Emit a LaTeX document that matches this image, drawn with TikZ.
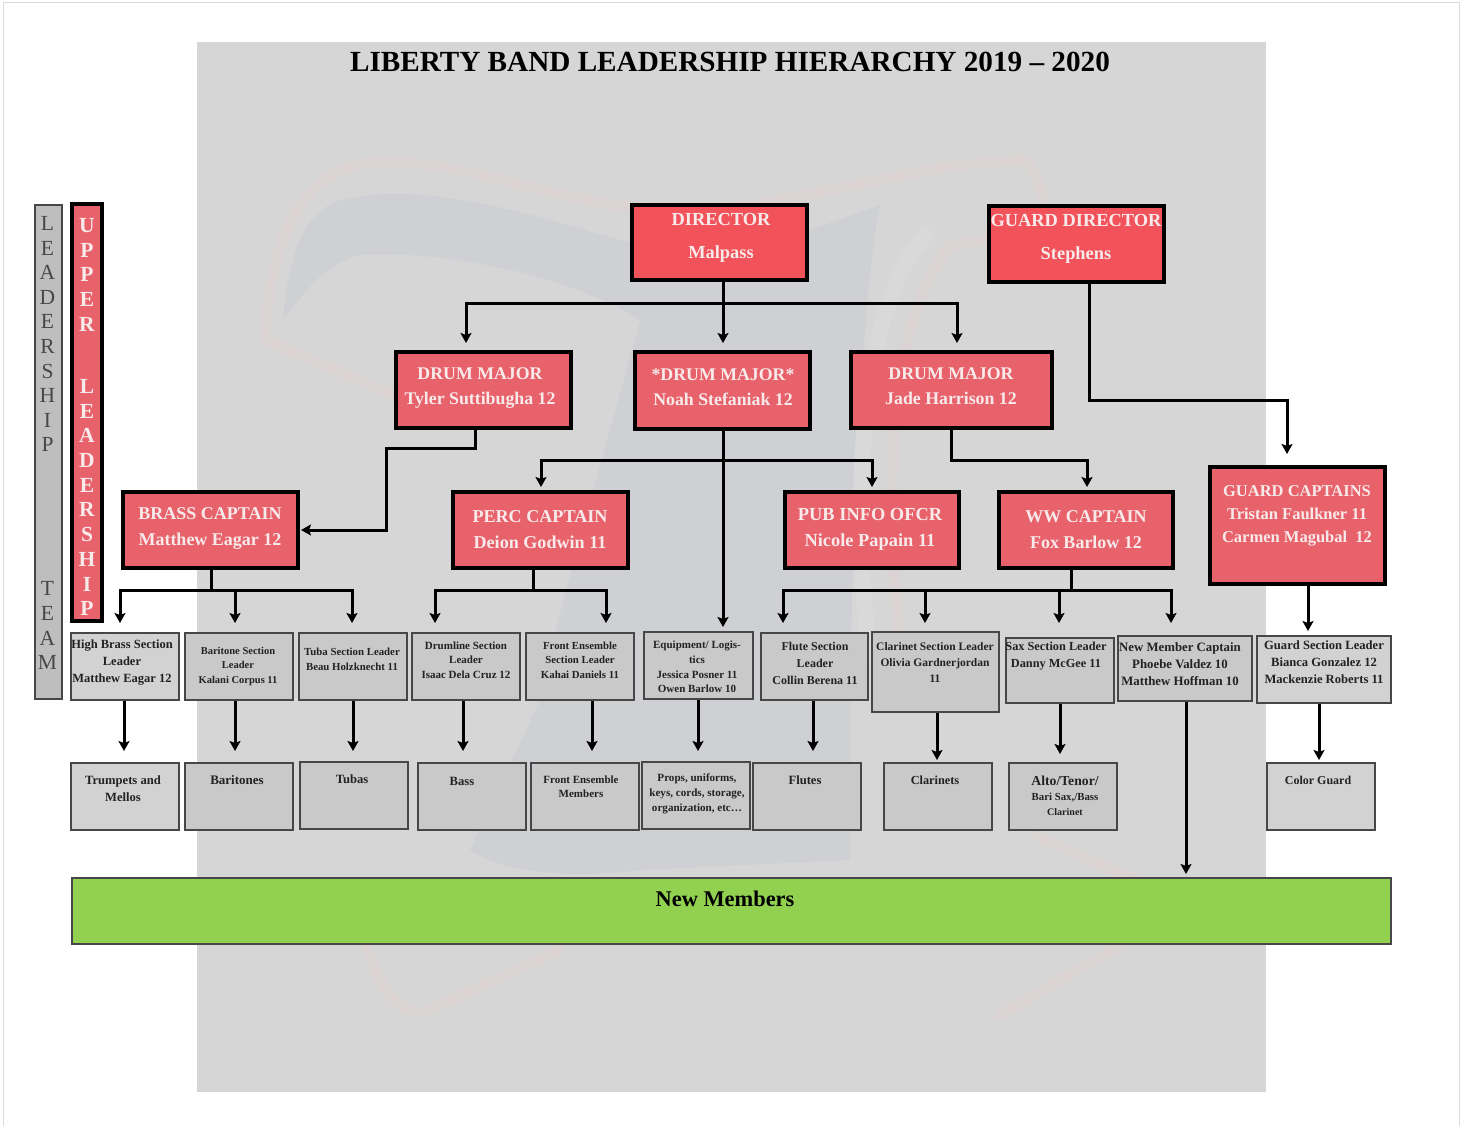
\documentclass[tikz,border=0pt]{standalone}
\usepackage{fontspec}
\setmainfont{Liberation Serif}
\usetikzlibrary{arrows.meta,shadows}
\definecolor{pagegray}{HTML}{D6D6D6}
\definecolor{wmblue}{HTML}{CFD0D4}
\definecolor{wmpink}{HTML}{DAD2D3}
\definecolor{wmpinkb}{HTML}{D8D5D5}
\definecolor{wmlight}{HTML}{D9D9D9}
\definecolor{redtop}{HTML}{F2535B}
\definecolor{redmid}{HTML}{E8626B}
\definecolor{grayfill}{HTML}{C9C9C9}
\definecolor{grayfilllt}{HTML}{D2D2D2}
\definecolor{stripgray}{HTML}{BEBEBE}
\definecolor{redtext}{HTML}{F8EAEA}
\definecolor{greenbar}{HTML}{92D050}
\definecolor{edgegray}{HTML}{474747}
\definecolor{inkdark}{HTML}{222222}
\tikzset{
  x=1pt,y=-1pt,
  redbox/.style={draw=black,line width=3.6pt,fill=redmid,drop shadow={shadow xshift=1.5pt,shadow yshift=-2pt,opacity=.3}},
  redtopbox/.style={redbox,fill=redtop},
  graybox/.style={draw=edgegray,line width=1.9pt,fill=grayfill},
  grayboxlt/.style={graybox,fill=grayfilllt},
  stripbox/.style={draw=edgegray,line width=1.9pt,fill=stripgray},
  greenbox/.style={draw=edgegray,line width=1.9pt,fill=greenbar},
  redlabel/.style={text=redtext,font=\bfseries,align=center,inner sep=0pt},
  graylabel/.style={text=inkdark,font=\bfseries,align=center,inner sep=0pt},
  conn/.style={draw=black,line width=3pt,line cap=rect},
  arr/.style={conn,line cap=butt,-{Stealth[length=10pt,width=11pt,inset=2pt]}},
}
\newcommand{\bx}[6]{\node[#1,anchor=north west,inner sep=0pt,outer sep=1pt,minimum width={(#5-#3-2)*1pt},minimum height={(#6-#4-2)*1pt}] (#2) at (#3,#4) {};}
\newcommand{\fs}[2]{\fontsize{#1}{#2}\selectfont}
\begin{document}
\begin{tikzpicture}
\useasboundingbox (0,0) rectangle (1468,1126);
\fill[white] (0,0) rectangle (1468,1126);
\draw[draw=black!14,line width=1pt] (3,1126) -- (3,3) -- (1459,3) -- (1459,1126);
\fill[pagegray] (197,42) rectangle (1266,1092);
% watermark
\fill[wmblue] (283,320) .. controls (290,240) and (310,205) .. (350,198) .. controls (440,180) and (560,225) .. (640,245) .. controls (720,262) and (800,235) .. (880,205) .. controls (860,300) and (850,600) .. (850,720) -- (850,860) -- (640,870) .. controls (560,880) and (500,870) .. (470,850) -- (540,700) .. controls (570,560) and (620,400) .. (640,320) .. controls (560,270) and (430,250) .. (360,255) .. controls (320,265) and (300,300) .. (283,320) -- cycle;
\draw[wmlight,line width=16pt] (870,660) .. controls (850,500) and (860,300) .. (930,230);
\foreach \w/\c in {15pt/wmpinkb,9pt/wmpink}{
  \draw[\c,line width=\w,line join=round,line cap=round] (265,340) .. controls (270,240) and (300,170) .. (370,163) .. controls (470,155) and (570,215) .. (700,210) .. controls (800,205) and (900,165) .. (1025,160) .. controls (1040,175) and (1045,205) .. (1055,235);
  \draw[\c,line width=\w,line join=round,line cap=round] (265,340) -- (395,395);
  \draw[\c,line width=\w,line cap=round] (900,640) .. controls (885,500) and (885,330) .. (950,245) -- (1035,235);
  \draw[\c,line width=\w,line join=round,line cap=round] (365,940) .. controls (375,980) and (395,1015) .. (425,1012) -- (560,950);
  \draw[\c,line width=\w,line join=round,line cap=round] (1000,1015) -- (1190,905) -- (1035,835);
}
% title
\node[inner sep=0pt,text=black,font=\bfseries\fs{29.2}{32}] (title) at (730,62) {LIBERTY BAND LEADERSHIP HIERARCHY 2019 -- 2020};
% boxes
\bx{stripbox}{lead}{34}{204}{63}{700}
\bx{redbox}{upper}{71}{203}{103}{622}
\bx{redtopbox}{dir}{631}{204}{808}{281}
\bx{redtopbox}{gdir}{988}{205}{1165}{283}
\bx{redbox}{dma}{395}{351}{572}{429}
\bx{redbox}{dmb}{634}{351}{811}{430}
\bx{redbox}{dmc}{850}{351}{1053}{429}
\bx{redbox}{brass}{122}{491}{299}{569}
\bx{redbox}{perc}{452}{491}{629}{569}
\bx{redbox}{pub}{784}{491}{960}{569}
\bx{redbox}{ww}{998}{491}{1174}{569}
\bx{redbox}{gcap}{1209}{466}{1386}{585}
\bx{grayboxlt}{hb}{70}{632}{180}{701}
\bx{graybox}{bar}{184}{632}{294}{701}
\bx{graybox}{tuba}{298}{632}{408}{701}
\bx{graybox}{dl}{411}{632}{521}{701}
\bx{graybox}{fe}{525}{632}{635}{701}
\bx{graybox}{eq}{643}{631}{754}{700}
\bx{graybox}{fl}{760}{632}{869}{701}
\bx{graybox}{cl}{871}{631}{1000}{713}
\bx{graybox}{sax}{1005}{637}{1115}{704}
\bx{graybox}{nm}{1117}{635}{1253}{702}
\bx{grayboxlt}{gsl}{1256}{635}{1392}{704}
\bx{grayboxlt}{tr}{70}{762}{180}{831}
\bx{graybox}{bars}{184}{762}{294}{831}
\bx{graybox}{tubas}{299}{761}{409}{830}
\bx{graybox}{bass}{417}{762}{527}{831}
\bx{graybox}{fem}{530}{762}{640}{831}
\bx{graybox}{props}{641}{761}{751}{830}
\bx{graybox}{flutes}{752}{762}{862}{831}
\bx{graybox}{clars}{883}{762}{993}{831}
\bx{graybox}{alto}{1008}{762}{1118}{831}
\bx{grayboxlt}{cg}{1266}{762}{1376}{831}
\bx{greenbox}{newm}{71}{877}{1392}{945}
% x positions and junctions
\foreach \n/\xx in {a120/120,a235/235,a352/352,a435/435,a606/606,a783/783,a925/925,a1059/1059,a1171/1171,a124/124,a353/353,a463/463,a592/592,a698/698,a813/813,a937/937,a1060/1060,a1319/1319,a1186/1186,a466/466,a723/723,a957/957,a541/541,a872/872,a951/951,a1087/1087,a1089/1089,a1287/1287,a211/211,a533/533,a1071/1071,a475/475,a386/386,a1308/1308}
  {\coordinate (\n) at (\xx,0);}
\foreach \n/\yy in {b304/304,b448/448,b460/460,b400/400,b590/590}
  {\coordinate (\n) at (0,\yy);}
\tikzset{gap/.style={shorten >=#1pt}}
% director
\draw[arr,gap=8] (a723 |- dir.south) -- (a723 |- dmb.north);
\draw[conn] (a466 |- b304) -- (a957 |- b304);
\draw[arr,gap=8] (a466 |- b304) -- (a466 |- dma.north);
\draw[arr,gap=8] (a957 |- b304) -- (a957 |- dmc.north);
% guard
\draw[arr,gap=12] (a1089 |- gdir.south) -- (a1089 |- b400) -- (a1287 |- b400) -- (a1287 |- gcap.north);
% drum major a to brass
\draw[arr,gap=2] (a475 |- dma.south) -- (a475 |- b448) -- (a386 |- b448) -- (a386 |- brass.east) -- (brass.east);
% drum major b
\draw[arr,gap=4] (a723 |- dmb.south) -- (a723 |- eq.north);
\draw[conn] (a541 |- b460) -- (a872 |- b460);
\draw[arr,gap=4] (a541 |- b460) -- (a541 |- perc.north);
\draw[arr,gap=4] (a872 |- b460) -- (a872 |- pub.north);
% drum major c
\draw[arr,gap=4] (a951 |- dmc.south) -- (a951 |- b460) -- (a1087 |- b460) -- (a1087 |- ww.north);
% captains
\draw[conn] (a211 |- brass.south) -- (a211 |- b590);
\draw[conn] (a120 |- b590) -- (a352 |- b590);
\draw[arr,gap=9] (a120 |- b590) -- (a120 |- hb.north);
\draw[arr,gap=9] (a235 |- b590) -- (a235 |- bar.north);
\draw[arr,gap=9] (a352 |- b590) -- (a352 |- tuba.north);
\draw[conn] (a533 |- perc.south) -- (a533 |- b590);
\draw[conn] (a435 |- b590) -- (a606 |- b590);
\draw[arr,gap=9] (a435 |- b590) -- (a435 |- dl.north);
\draw[arr,gap=9] (a606 |- b590) -- (a606 |- fe.north);
\draw[conn] (a1071 |- ww.south) -- (a1071 |- b590);
\draw[conn] (a783 |- b590) -- (a1171 |- b590);
\draw[arr,gap=9] (a783 |- b590) -- (a783 |- fl.north);
\draw[arr,gap=8] (a925 |- b590) -- (a925 |- cl.north);
\draw[arr,gap=14] (a1059 |- b590) -- (a1059 |- sax.north);
\draw[arr,gap=12] (a1171 |- b590) -- (a1171 |- nm.north);
\draw[arr,gap=4] (a1308 |- gcap.south) -- (a1308 |- gsl.north);
% leaders to members
\draw[arr,gap=11] (a124 |- hb.south) -- (a124 |- tr.north);
\draw[arr,gap=11] (a235 |- bar.south) -- (a235 |- bars.north);
\draw[arr,gap=10] (a353 |- tuba.south) -- (a353 |- tubas.north);
\draw[arr,gap=11] (a463 |- dl.south) -- (a463 |- bass.north);
\draw[arr,gap=11] (a592 |- fe.south) -- (a592 |- fem.north);
\draw[arr,gap=10] (a698 |- eq.south) -- (a698 |- props.north);
\draw[arr,gap=11] (a813 |- fl.south) -- (a813 |- flutes.north);
\draw[arr,gap=2] (a937 |- cl.south) -- (a937 |- clars.north);
\draw[arr,gap=8] (a1060 |- sax.south) -- (a1060 |- alto.north);
\draw[arr,gap=2] (a1319 |- gsl.south) -- (a1319 |- cg.north);
\draw[arr,gap=3] (nm.south -| a1186) -- (a1186 |- newm.north);
% labels: vertical strips
\node[inner sep=0pt,align=center,text=edgegray,font=\fs{21.5}{24.6}] (leadt) at (47.5,443) {L\\E\\A\\D\\E\\R\\S\\H\\I\\P\\[119.4pt]T\\E\\A\\M};
\node[inner sep=0pt,align=center,text=redtext,font=\bfseries\fs{21.5}{24.7}] (uppert) at (87,417) {U\\P\\P\\E\\R\\[37.6pt]L\\E\\A\\D\\E\\R\\S\\H\\I\\P};
% labels: red boxes
\node[redlabel,font=\bfseries\fs{18.4}{33}] (dirt) at (721,238) {DIRECTOR\\Malpass};
\node[redlabel,font=\bfseries\fs{18.4}{33}] (gdirt) at (1076,239) {GUARD DIRECTOR\\Stephens};
\node[redlabel,font=\bfseries\fs{17.8}{25}] (dmat) at (480,388) {DRUM MAJOR\\Tyler Suttibugha 12};
\node[redlabel,font=\bfseries\fs{17.8}{25}] (dmbt) at (723,387.5) {*DRUM MAJOR*\\Noah Stefaniak 12};
\node[redlabel,font=\bfseries\fs{17.8}{25}] (dmct) at (951,386.5) {DRUM MAJOR\\Jade Harrison 12};
\node[redlabel,font=\bfseries\fs{18}{26}] (brasst) at (210,529) {BRASS CAPTAIN\\Matthew Eagar 12};
\node[redlabel,font=\bfseries\fs{18.1}{26}] (perct) at (540,530) {PERC CAPTAIN\\Deion Godwin 11};
\node[redlabel,font=\bfseries\fs{18.4}{26}] (pubt) at (870,529) {PUB INFO OFCR\\Nicole Papain 11};
\node[redlabel,font=\bfseries\fs{18}{26}] (wwt) at (1086,530) {WW CAPTAIN\\Fox Barlow 12};
\node[redlabel,font=\bfseries\fs{16.5}{23}] (gcapt) at (1297,516) {GUARD CAPTAINS\\Tristan Faulkner 11\\Carmen Magubal\ \ 12};
% labels: second row
\node[graylabel,font=\bfseries\fs{12.5}{17}] (hbt) at (122,663) {High Brass Section\\Leader\\Matthew Eagar 12};
\node[graylabel,font=\bfseries\fs{10.5}{14.5}] (bart) at (238,666) {Baritone Section\\Leader\\Kalani Corpus 11};
\node[graylabel,font=\bfseries\fs{10.8}{15}] (tubat) at (352,659.5) {Tuba Section Leader\\Beau Holzknecht 11};
\node[graylabel,font=\bfseries\fs{11}{14.5}] (dlt) at (466,660) {Drumline Section\\Leader\\Isaac Dela Cruz 12};
\node[graylabel,font=\bfseries\fs{10.8}{14.5}] (fet) at (580,660) {Front Ensemble\\Section Leader\\Kahai Daniels 11};
\node[graylabel,font=\bfseries\fs{11}{14.7}] (eqt) at (697,667) {Equipment/ Logis-\\tics\\Jessica Posner 11\\Owen Barlow 10};
\node[graylabel,font=\bfseries\fs{12}{17}] (flt) at (815,663) {Flute Section\\Leader\\Collin Berena 11};
\node[graylabel,font=\bfseries\fs{11.5}{16}] (clt) at (935,663) {Clarinet Section Leader\\Olivia Gardnerjordan\\11};
\node[graylabel,font=\bfseries\fs{12.3}{17}] (saxt) at (1056,656.5) {Sax Section Leader\\Danny McGee 11};
\node[graylabel,font=\bfseries\fs{12.8}{17}] (nmt) at (1180,664) {New Member Captain\\Phoebe Valdez 10\\Matthew Hoffman 10};
\node[graylabel,font=\bfseries\fs{12.6}{17}] (gslt) at (1324,662.5) {Guard Section Leader\\Bianca Gonzalez 12\\Mackenzie Roberts 11};
% labels: third row
\node[graylabel,font=\bfseries\fs{12.6}{17}] (trt) at (123,788.5) {Trumpets and\\Mellos};
\node[graylabel,font=\bfseries\fs{13}{14}] (barst) at (237,780) {Baritones};
\node[graylabel,font=\bfseries\fs{12.6}{14}] (tubast) at (352,779) {Tubas};
\node[graylabel,font=\bfseries\fs{12.6}{14}] (basst) at (462,781) {Bass};
\node[graylabel,font=\bfseries\fs{11}{14}] (femt) at (581,787) {Front Ensemble\\Members};
\node[graylabel,font=\bfseries\fs{11.1}{15}] (propst) at (697,794) {Props, uniforms,\\keys, cords, storage,\\organization, etc\dots};
\node[graylabel,font=\bfseries\fs{12.6}{14}] (flutest) at (805,780) {Flutes};
\node[graylabel,font=\bfseries\fs{12.3}{14}] (clarst) at (935,780) {Clarinets};
\node[graylabel,font=\bfseries\fs{10.8}{15}] (altot) at (1065,795.5) {{\fs{13.7}{15}Alto/Tenor/}\\Bari Sax,/Bass\\{\fs{10}{15}Clarinet}};
\node[graylabel,font=\bfseries\fs{12}{14}] (cgt) at (1318,780) {Color Guard};
\node[graylabel,text=black,font=\bfseries\fs{22.4}{25}] (newmt) at (725,899) {New Members};
\end{tikzpicture}
\end{document}
